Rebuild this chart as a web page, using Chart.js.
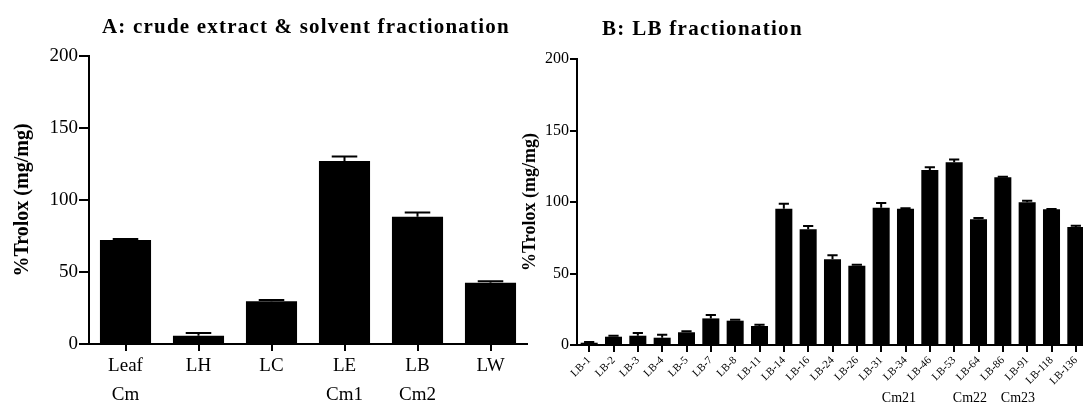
<!DOCTYPE html>
<html><head><meta charset="utf-8">
<script src="https://cdn.jsdelivr.net/npm/chart.js@4.4.1/dist/chart.umd.min.js"></script>
<style>
html,body{margin:0;padding:0;background:#fff;overflow:hidden;width:1083px;height:405px;position:relative;}
#ca{position:absolute;left:0;top:0;}
#cb{position:absolute;left:520px;top:0;}
</style></head><body>
<canvas id="ca" width="545" height="405"></canvas>
<canvas id="cb" width="580" height="405"></canvas>
<script>
// ---- Panel A data ----
const catsA = ['Leaf', 'LH', 'LC', 'LE', 'LB', 'LW'];
const valsA = [72.2, 5.8, 29.7, 127.0, 88.4, 42.6];
const errA  = [0.8, 1.8, 0.8, 3.2, 3.0, 0.9];
const subLabelsA = ['Cm', '', '', 'Cm1', 'Cm2', ''];
const ticksA = [0, 50, 100, 150, 200];

// ---- Panel B data ----
const catsB = ['LB-1','LB-2','LB-3','LB-4','LB-5','LB-7','LB-8','LB-11','LB-14','LB-16','LB-24',
               'LB-26','LB-31','LB-34','LB-46','LB-53','LB-64','LB-86','LB-91','LB-118','LB-136'];
const valsB = [1.6, 5.8, 6.5, 5.1, 8.9, 18.6, 17.0, 13.3, 95.3, 80.9, 59.9,
               55.5, 96.0, 95.3, 122.4, 127.8, 87.9, 117.3, 99.8, 94.9, 82.5];
const errB  = [0.5, 0.7, 1.9, 2.1, 0.7, 2.4, 0.7, 0.9, 3.5, 2.3, 2.8,
               0.7, 3.3, 0.3, 1.9, 2.0, 0.9, 0.4, 1.1, 0.2, 0.9];
const subLabelsB = ['', '', '', '', '', '', '', '', '', '', '',
                    '', '', 'Cm21', '', '', 'Cm22', 'Cm23', '', '', ''];
const ticksB = [0, 50, 100, 150, 200];

const FAM = "'Liberation Serif', 'Times New Roman', serif";

const errorBars = {
  id: 'errorBars',
  afterDatasetsDraw(chart, args, opts) {
    const ctx = chart.ctx, ds = chart.data.datasets[0], meta = chart.getDatasetMeta(0), ys = chart.scales.y;
    ctx.save();
    ctx.strokeStyle = '#000';
    ctx.lineWidth = opts.lineWidth;
    meta.data.forEach((bar, i) => {
      const e = ds.errors[i];
      if (!e) return;
      const x = bar.x;
      const y0 = ys.getPixelForValue(ds.data[i]);
      const y1 = ys.getPixelForValue(ds.data[i] + e);
      const hw = bar.width * opts.capFrac / 2;
      ctx.beginPath();
      ctx.moveTo(x, y0); ctx.lineTo(x, y1);
      ctx.moveTo(x - hw, y1); ctx.lineTo(x + hw, y1);
      ctx.stroke();
    });
    ctx.restore();
  }
};

const extraText = {
  id: 'extraText',
  afterDraw(chart, args, opts) {
    const ctx = chart.ctx, xs = chart.scales.x;
    ctx.save();
    ctx.fillStyle = '#000';
    ctx.textBaseline = 'middle';
    // chart title
    ctx.font = 'bold ' + opts.titleSize + 'px ' + FAM;
    ctx.textAlign = 'left';
    if ('letterSpacing' in ctx) ctx.letterSpacing = opts.titleSpacing;
    ctx.fillText(opts.title, opts.titleX, opts.titleY);
    if ('letterSpacing' in ctx) ctx.letterSpacing = '0px';
    // second-row category labels
    ctx.font = opts.subSize + 'px ' + FAM;
    ctx.textAlign = 'center';
    opts.sub.forEach((t, i) => {
      if (!t) return;
      const shift = (opts.subShift && opts.subShift[t]) || 0;
      ctx.fillText(t, xs.getPixelForValue(i + shift), opts.subY);
    });
    ctx.restore();
  }
};

function makeChart(id, cats, vals, errs, ticks, cfg) {
  return new Chart(document.getElementById(id), {
    type: 'bar',
    data: {
      labels: cats,
      datasets: [{
        data: vals, errors: errs,
        backgroundColor: '#000', borderColor: '#000', borderWidth: 0,
        barPercentage: 0.7, categoryPercentage: 1.0
      }]
    },
    options: {
      responsive: false, animation: false,
      layout: { padding: cfg.padding },
      plugins: {
        legend: { display: false }, tooltip: { enabled: false }, title: { display: false },
        errorBars: { lineWidth: cfg.errWidth, capFrac: cfg.capFrac },
        extraText: cfg.text
      },
      scales: {
        x: {
          grid: { offset: false, drawOnChartArea: false, drawTicks: true, tickLength: 7, color: '#000', lineWidth: 2 },
          border: { color: '#000', width: 2 },
          ticks: Object.assign({ color: '#000', font: { family: FAM, size: cfg.xFont } }, cfg.xTicks),
          afterFit(s) { s.height = cfg.xHeight; }
        },
        y: {
          min: 0, max: 200,
          afterBuildTicks(s) { s.ticks = ticks.map(v => ({ value: v })); },
          grid: { drawOnChartArea: false, drawTicks: true, tickLength: cfg.yTickLen, color: '#000', lineWidth: 2 },
          border: { color: '#000', width: 2 },
          ticks: { color: '#000', font: { family: FAM, size: cfg.yFont }, padding: cfg.yPad },
          title: { display: true, text: '%Trolox (mg/mg)', color: '#000',
                   font: { family: FAM, size: cfg.yTitleSize, weight: 'bold' }, padding: { top: cfg.yTitlePad, bottom: 0 } },
          afterFit(s) { s.width = cfg.yWidth; }
        }
      }
    },
    plugins: [errorBars, extraText]
  });
}

makeChart('ca', catsA, valsA, errA, ticksA, {
  padding: { left: 0, top: 56, right: 18, bottom: 0 },
  errWidth: 2, capFrac: 0.5,
  xFont: 19, xTicks: { maxRotation: 0, padding: 4 }, xHeight: 61,
  yFont: 19, yPad: 1, yTickLen: 10, yWidth: 89, yTitleSize: 20, yTitlePad: 11,
  text: { title: 'A: crude extract & solvent fractionation', titleSize: 21, titleSpacing: '1.2px', titleX: 102, titleY: 28,
          sub: subLabelsA, subSize: 19, subY: 395 }
});

makeChart('cb', catsB, valsB, errB, ticksB, {
  padding: { left: 0, top: 59, right: 12, bottom: 0 },
  errWidth: 2, capFrac: 0.6,
  xFont: 11, xTicks: { minRotation: 45, maxRotation: 45, padding: 2, autoSkip: false }, xHeight: 60,
  yFont: 16, yPad: 1, yTickLen: 7, yWidth: 57, yTitleSize: 18, yTitlePad: 0,
  text: { title: 'B: LB fractionation', titleSize: 21, titleSpacing: '1.3px', titleX: 82, titleY: 30,
          sub: subLabelsB, subSize: 14, subY: 398,
          subShift: { 'Cm21': -0.27, 'Cm22': -0.35, 'Cm23': 0.62 } }
});
</script>
</body></html>
